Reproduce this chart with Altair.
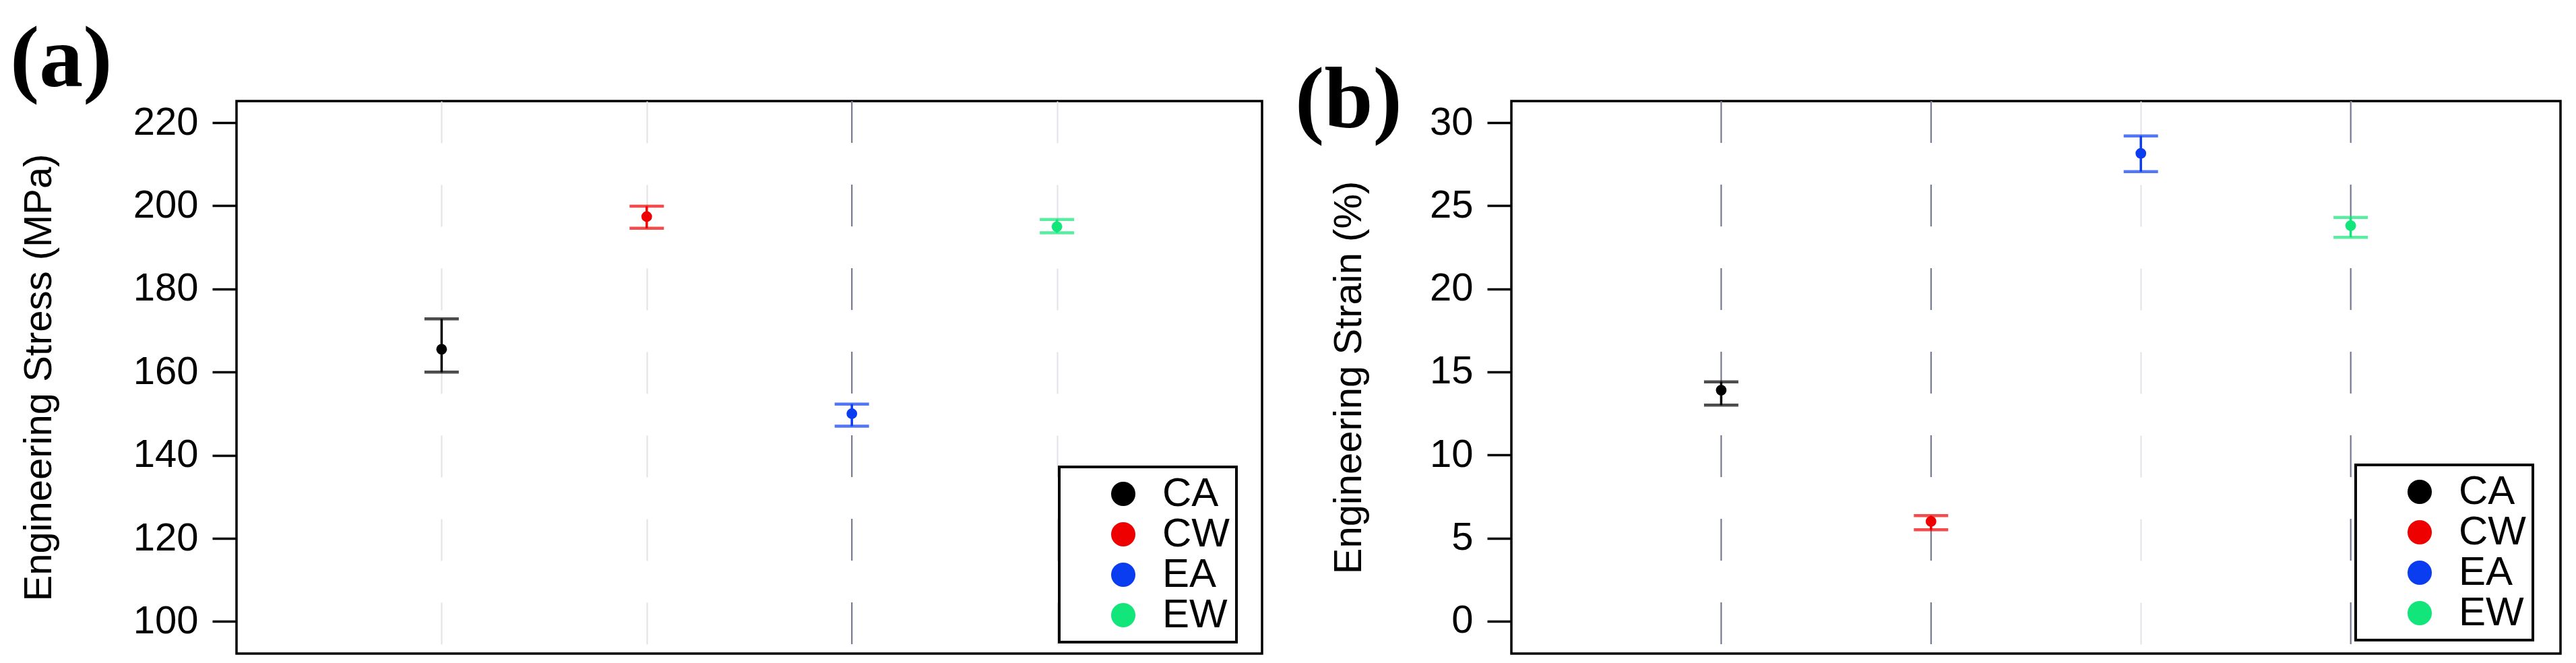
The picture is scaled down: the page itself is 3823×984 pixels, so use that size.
import altair as alt
import pandas as pd

categories = ["CA", "CW", "EA", "EW"]
colors = ["#000000", "#ee0000", "#0a3cf0", "#12e67a"]

stress_mean = [165.5, 197.4, 150.0, 195.0]
stress_lo = [160.0, 194.6, 147.0, 193.5]
stress_hi = [172.8, 199.9, 152.3, 196.7]
stress_ticks = [100, 120, 140, 160, 180, 200, 220]
stress_domain = [92.3, 225.2]
stress_dark_grid = ["EA"]

strain_mean = [13.9, 6.0, 28.15, 23.8]
strain_lo = [13.0, 5.5, 27.05, 23.1]
strain_hi = [14.4, 6.35, 29.2, 24.3]
strain_ticks = [0, 5, 10, 15, 20, 25, 30]
strain_domain = [-1.95, 31.3]
strain_dark_grid = ["CA", "CW", "EW"]

FONT = "Liberation Sans"


def panel(mean, lo, hi, dark, domain, ticks, title, title_pad, tag, tag_x,
          tag_y, legend_x, legend_y, width):
    df = pd.DataFrame({"cat": categories, "group": categories,
                       "mean": mean, "lo": lo, "hi": hi})
    x = alt.X("cat:N", sort=categories,
              scale=alt.Scale(type="point", padding=1),
              axis=alt.Axis(labels=False, ticks=False, domain=False, title=None,
                            grid=True, gridColor="#e2e2e8", gridDash=[62, 62],
                            gridWidth=2))
    yscale = alt.Scale(domain=domain, nice=False, zero=False)
    yaxis = alt.Axis(values=ticks, title=title, grid=False, domain=False,
                     labelFont=FONT, labelFontSize=58, labelColor="black",
                     labelPadding=21, tickSize=36, tickWidth=3.5,
                     tickColor="black", titleFont=FONT, titleFontSize=58,
                     titleFontWeight="normal", titleColor="black",
                     titlePadding=title_pad)

    def Y(field):
        return alt.Y(field, type="quantitative", scale=yscale, axis=yaxis)

    err_scale = alt.Scale(range=colors)
    base = alt.Chart(df)

    grid = base.transform_filter(
        alt.FieldOneOfPredicate(field="cat", oneOf=dark)
    ).mark_rule(color="#70748a", strokeWidth=2, strokeDash=[62, 62]).encode(x=x)

    bars = base.mark_rule(strokeWidth=3.5).encode(
        x=x, y=Y("lo"), y2="hi:Q",
        stroke=alt.Stroke("group:N", scale=err_scale, legend=None))
    cap_lo = base.mark_tick(size=51, thickness=4.5, orient="horizontal",
                            filled=True, strokeWidth=0).encode(
        x=x, y=Y("lo"), fill=alt.Fill("group:N", scale=err_scale, legend=None))
    cap_hi = base.mark_tick(size=51, thickness=4.5, orient="horizontal",
                            filled=True, strokeWidth=0).encode(
        x=x, y=Y("hi"), fill=alt.Fill("group:N", scale=err_scale, legend=None))
    points = base.mark_point(filled=True, size=250, opacity=1).encode(
        x=x, y=Y("mean"),
        color=alt.Color("cat:N", scale=alt.Scale(domain=categories, range=colors),
                        legend=alt.Legend(
            orient="none", legendX=legend_x, legendY=legend_y, title=None,
            labelFont=FONT, labelFontSize=60, labelColor="black",
            labelOffset=28, symbolOffset=55, symbolSize=1300,
            symbolType="circle", symbolStrokeWidth=0, rowPadding=0,
            padding=10, strokeColor="black", fillColor="white")))

    tag_chart = alt.Chart(pd.DataFrame({"t": [tag]})).mark_text(
        font="Liberation Serif", fontWeight="bold", fontSize=130,
        align="left", baseline="alphabetic", color="black"
    ).encode(text="t:N", x=alt.value(tag_x), y=alt.value(tag_y))

    return alt.layer(grid, bars, cap_lo, cap_hi, points, tag_chart).properties(
        width=width, height=820)


chart_a = panel(stress_mean, stress_lo, stress_hi, stress_dark_grid,
                stress_domain, stress_ticks, "Engineering Stress (MPa)", 110,
                "(a)", -336, -22, 1221, 543, 1522)
chart_b = panel(strain_mean, strain_lo, strain_hi, strain_dark_grid,
                strain_domain, strain_ticks, "Engineering Strain (%)", 90,
                "(b)", -321, 39, 1253, 540, 1557)

chart = alt.hconcat(chart_a, chart_b, spacing=370, bounds="flush",
                    padding={"left": 5, "top": 14, "right": 5, "bottom": 5}
                    ).resolve_scale(color="independent", stroke="independent",
                                    fill="independent"
                    ).resolve_legend(color="independent"
                    ).configure_view(stroke="black", strokeWidth=3.5
                    ).configure_legend(strokeWidth=4)

chart.save("out.html", embed_options={"renderer": "svg", "actions": False})
